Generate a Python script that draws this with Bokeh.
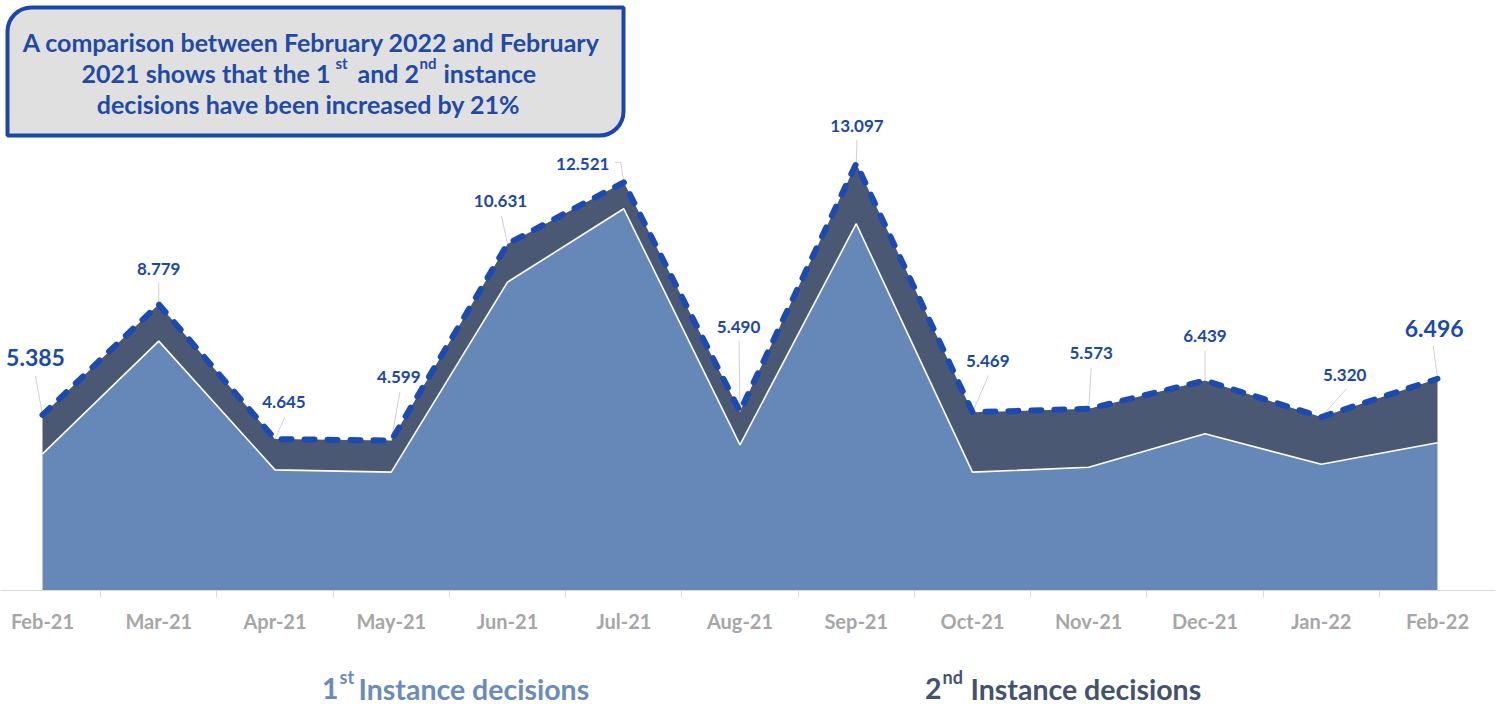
from bokeh.plotting import figure
from bokeh.models import ColumnDataSource, LabelSet, Label, BoxAnnotation, FixedTicker, Range1d
from bokeh.core.properties import value
from bokeh.layouts import column
from bokeh.embed import file_html
from bokeh.resources import INLINE

# ---------------- data ----------------
months = ["Feb-21", "Mar-21", "Apr-21", "May-21", "Jun-21", "Jul-21", "Aug-21",
          "Sep-21", "Oct-21", "Nov-21", "Dec-21", "Jan-22", "Feb-22"]
total = [5.385, 8.779, 4.645, 4.599, 10.631, 12.521, 5.490,
         13.097, 5.469, 5.573, 6.439, 5.320, 6.496]
total_labels = ["5.385", "8.779", "4.645", "4.599", "10.631", "12.521", "5.490",
                "13.097", "5.469", "5.573", "6.439", "5.320", "6.496"]
first_instance = [4.19, 7.65, 3.70, 3.63, 9.46, 11.71, 4.47,
                  11.25, 3.63, 3.78, 4.81, 3.87, 4.53]

# label placement (pixels, right / up) relative to each point
label_dx = [-7, 0, 9, 7.6, -7, -41, -1.4, 0.7, 15.3, 2.4, 0, 23.4, -3.3]
label_dy = [57, 35.5, 37, 63.4, 42.7, 18.5, 84.3, 37.3, 51.7, 56, 45, 41.6, 50]
leader_dx = [-7, 0, 10, 8.6, -6, -9, -1, 0.7, 16, 2.4, 0, 25, -4.3]
leader_dy = [39, 22, 22, 48.4, 28, 20, 71, 23.7, 36.7, 41, 30, 28, 33]
big = [0, 12]

# ---------------- main figure ----------------
W, H = 1502, 654
H2 = 704 - H
BOTTOM = 64
RIGHT = 7
X0, X1 = -0.3613, 12.499
Y0, Y1 = 0, 18.098
px_x = (W - RIGHT) / (X1 - X0)
px_y = (H - BOTTOM) / (Y1 - Y0)

p = figure(width=W, height=H, x_range=Range1d(X0, X1), y_range=Range1d(Y0, Y1),
           output_backend="svg", toolbar_location=None, y_axis_location=None,
           min_border_left=0, min_border_right=RIGHT, min_border_top=0,
           min_border_bottom=BOTTOM)
p.outline_line_color = None
p.xgrid.visible = False
p.ygrid.visible = False

idx = list(range(len(months)))
FONT = "Lato"

p.varea(x=idx, y1=[0] * len(idx), y2=first_instance, fill_color="#6688b8")
p.varea(x=idx, y1=first_instance, y2=total, fill_color="#4a5874")
p.line(idx, first_instance, line_color="white", line_width=1.6)

# leader lines
xs, ys = [], []
for i in idx:
    if i == 5:
        xs.append([i + leader_dx[i] / px_x, i - 3 / px_x, i])
        ys.append([total[i] + leader_dy[i] / px_y, total[i] + leader_dy[i] / px_y, total[i]])
    else:
        xs.append([i + leader_dx[i] / px_x, i])
        ys.append([total[i] + leader_dy[i] / px_y, total[i]])
p.multi_line(xs, ys, line_color="#d0d0d0", line_width=1)

p.line(idx, total, line_color="#1a4ab2", line_width=6, line_dash="10 13",
       line_cap="round", line_join="round")

# x axis
ax = p.xaxis[0]
ax.ticker = FixedTicker(ticks=idx, minor_ticks=[i + 0.5 for i in range(-1, 13)])
ax.major_label_overrides = {i: m for i, m in zip(idx, months)}
ax.axis_line_color = "#d9d9d9"
ax.major_tick_line_color = None
ax.major_tick_in = 0
ax.major_tick_out = 0
ax.minor_tick_line_color = "#d9d9d9"
ax.minor_tick_in = 0
ax.minor_tick_out = 7
ax.major_label_standoff = 11
ax.major_label_text_font = FONT
ax.major_label_text_font_style = "bold"
ax.major_label_text_font_size = "20px"
ax.major_label_text_color = "#a6a6a6"

# data labels
def lab_src(sel):
    return ColumnDataSource(dict(
        x=[idx[i] for i in sel], y=[total[i] for i in sel],
        text=[total_labels[i] for i in sel],
        dx=[label_dx[i] for i in sel], dy=[label_dy[i] for i in sel]))

small = [i for i in idx if i not in big]
for sel, size in ((small, "17px"), (big, "23px")):
    p.add_layout(LabelSet(x="x", y="y", text="text", x_offset="dx", y_offset="dy",
                          source=lab_src(sel), text_align="center",
                          text_baseline="middle", text_font=value(FONT),
                          text_font_style="bold", text_font_size=value(size),
                          text_color="#1a48ad"))

# ---------------- title box ----------------
FB = H - BOTTOM  # page y of frame bottom


def txt(fig, fb, x, y, s, size, color, align="left"):
    fig.add_layout(Label(x=x, y=fb - y, x_units="screen", y_units="screen", text=s,
                         text_font=FONT, text_font_style="bold",
                         text_font_size=size, text_color=color, text_align=align,
                         text_baseline="alphabetic"))


p.add_layout(BoxAnnotation(left=7, right=623, top=FB - 7, bottom=FB - 135,
                           left_units="screen", right_units="screen",
                           top_units="screen", bottom_units="screen",
                           fill_color="#e0e0e0", fill_alpha=1,
                           line_color="#1a46ad", line_width=4, line_alpha=1,
                           border_radius=dict(top_left=24, top_right=0,
                                              bottom_right=24, bottom_left=0)))

TC = "#1f4aa6"
TS = "25px"
txt(p, FB, 314, 41, "A comparison between  February 2022 and February", TS, TC, "center")
txt(p, FB, 330, 72, "2021 shows that the 1", TS, TC, "right")
txt(p, FB, 335, 62, "st", "15px", TC, "left")
txt(p, FB, 357, 72, "and 2", TS, TC, "left")
txt(p, FB, 419, 62, "nd", "15px", TC, "left")
txt(p, FB, 443, 72, "instance", TS, TC, "left")
txt(p, FB, 311, 103, "decisions have been increased by  21%", TS, TC, "center")

# ---------------- legend (second strip) ----------------
p2 = figure(width=W, height=H2, x_range=Range1d(0, 1), y_range=Range1d(0, 1),
            output_backend="svg", toolbar_location=None,
            x_axis_location=None, y_axis_location=None,
            min_border_left=0, min_border_right=0, min_border_top=0,
            min_border_bottom=0)
p2.outline_line_color = None
p2.xgrid.visible = False
p2.ygrid.visible = False

FB2 = H2  # frame bottom relative to strip top
OFF = H   # strip's page offset
C1, C2 = "#6a8bbb", "#44526e"
LB, SB = 688, 676
txt(p2, FB2, 338, LB - OFF, "1", "28.5px", C1, "right")
txt(p2, FB2, 339, SB - OFF, "st", "18px", C1, "left")
txt(p2, FB2, 358, LB - OFF, "Instance decisions", "28.5px", C1, "left")
txt(p2, FB2, 941, LB - OFF, "2", "28.5px", C2, "right")
txt(p2, FB2, 942, SB - OFF, "nd", "18px", C2, "left")
txt(p2, FB2, 970, LB - OFF, "Instance decisions", "28.5px", C2, "left")

layout = column(p, p2, spacing=0)
open("out.html", "w").write(file_html(layout, INLINE))
